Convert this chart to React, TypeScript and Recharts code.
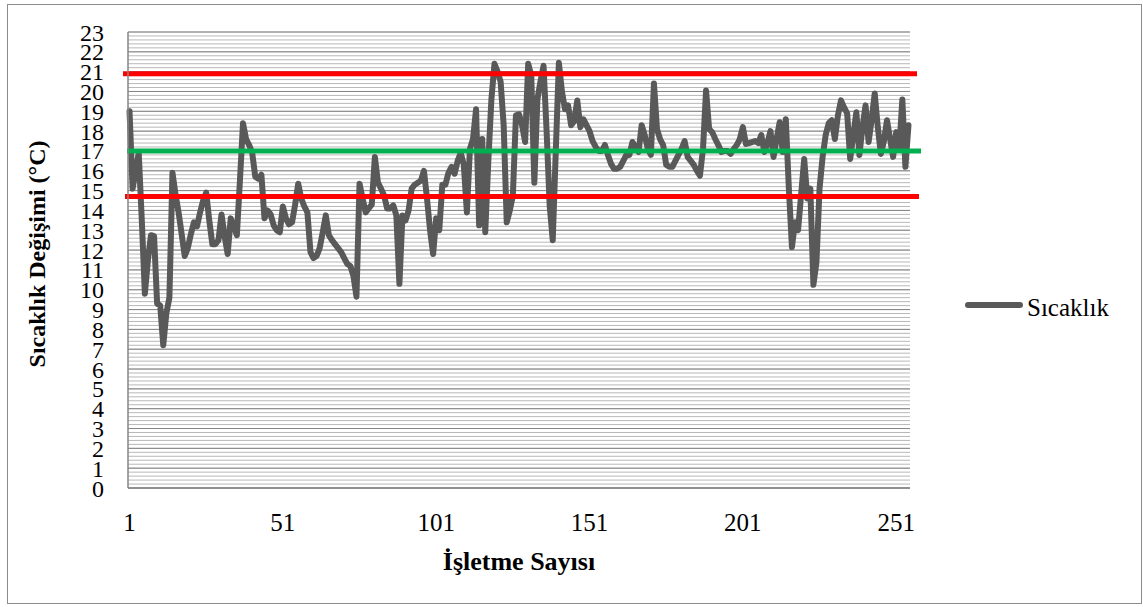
import { LineChart, Line, XAxis, YAxis, CartesianGrid, ReferenceLine, Legend } from "recharts";

// Sıcaklık readings, one per işletme (1..255)
const TEMPS: number[] = [
  19.0, 15.1, 16.0, 16.9, 13.5, 9.8, 11.5, 12.75, 12.7, 9.3,
  9.2, 7.2, 8.8, 9.6, 15.9, 14.8, 13.9, 12.8, 11.7, 12.1,
  12.8, 13.4, 13.2, 13.9, 14.5, 14.9, 13.5, 12.3, 12.3, 12.5,
  13.8, 12.7, 11.8, 13.6, 13.2, 12.75, 15.5, 18.4, 17.6, 17.3,
  16.9, 15.7, 15.6, 15.8, 13.6, 14.0, 13.8, 13.25, 13.0, 12.9,
  14.2, 13.6, 13.3, 13.4, 14.3, 15.35, 14.6, 14.2, 13.9, 11.9,
  11.6, 11.7, 12.1, 12.9, 13.75, 12.75, 12.5, 12.3, 12.1, 11.9,
  11.6, 11.3, 11.2, 10.7, 9.65, 15.35, 14.6, 13.9, 14.1, 14.3,
  16.7, 15.4, 15.1, 14.75, 14.1, 14.1, 14.25, 13.75, 10.3, 13.75,
  13.5, 14.0, 15.1, 15.3, 15.4, 15.5, 16.0, 14.6, 13.0, 11.8,
  13.6, 13.0, 15.3, 15.3, 15.9, 16.2, 15.85, 16.5, 16.9, 16.3,
  13.9, 17.1, 17.6, 19.1, 13.25, 17.6, 12.9, 16.5, 19.6, 21.4,
  21.0, 20.5, 18.3, 13.4, 14.0, 14.75, 18.8, 18.85, 18.3, 17.45,
  21.4, 20.8, 15.4, 19.6, 20.5, 21.3, 18.0, 14.25, 12.5, 17.0,
  21.45, 20.0, 19.1, 19.3, 18.3, 18.5, 19.55, 18.2, 18.6, 18.3,
  18.0, 17.5, 17.2, 17.0, 17.0, 17.3, 16.8, 16.35, 16.1, 16.1,
  16.2, 16.5, 16.8, 16.8, 17.45, 17.2, 16.95, 18.3, 17.8, 17.1,
  16.8, 20.4, 18.1, 17.6, 17.3, 16.3, 16.2, 16.2, 16.5, 16.8,
  17.1, 17.5, 16.7, 16.5, 16.3, 16.0, 15.75, 17.1, 20.05, 18.1,
  17.95, 17.6, 17.3, 16.95, 17.0, 17.0, 16.85, 17.1, 17.3, 17.6,
  18.2, 17.35, 17.4, 17.45, 17.5, 17.4, 17.8, 16.95, 17.4, 18.0,
  16.7, 17.6, 18.45, 16.95, 18.6, 15.1, 12.15, 13.4, 13.0, 14.8,
  16.6, 14.6, 15.1, 10.25, 11.4, 15.1, 16.7, 17.8, 18.4, 18.55,
  17.6, 18.8, 19.55, 19.2, 18.9, 16.6, 17.8, 18.95, 16.8, 18.2,
  19.3, 17.45, 18.6, 19.9, 18.2, 16.85, 17.5, 18.55, 17.6, 16.7,
  17.95, 17.1, 19.6, 16.2, 18.3,
];

const CATEGORIES = TEMPS.map((_, i) => i + 1);
const Y_TICKS = [0, 1, 2, 3, 4, 5, 6, 7, 8, 9, 10, 11, 12, 13, 14, 15, 16, 17, 18, 19, 20, 21, 22, 23];
const MINOR_GRID = Array.from({ length: 23 * 5 + 1 }, (_, i) => i / 5);

// limit lines: upper, mean, lower
const LIMITS = [20.9, 17.0, 14.7];
const LIMIT_STYLE = [
  { color: "#ff0000", width: 5, left: 5, right: 7 },
  { color: "#00b050", width: 5, left: 1, right: 11 },
  { color: "#ff0000", width: 5, left: 3, right: 9 },
];

const FONT = "Liberation Serif, Times New Roman, serif";
const LINE_COLOR = "#595959";

const data = CATEGORIES.map((n, i) => ({ n, temp: TEMPS[i] }));

function LegendBox() {
  return (
    <svg width={160} height={30}>
      <line x1={4} y1={14} x2={56} y2={14} stroke={LINE_COLOR} strokeWidth={6} strokeLinecap="round" />
      <text x={63} y={25} fontFamily={FONT} fontSize={25} fill="#000">
        Sıcaklık
      </text>
    </svg>
  );
}

export default function App() {
  return (
    <div style={{ position: "absolute", left: 0, top: 0, width: 1143, height: 607, background: "#fff" }}>
      <div
        style={{
          position: "absolute",
          left: 7,
          top: 4,
          width: 1133,
          height: 598,
          border: "1px solid #8c8c8c",
        }}
      />
      <div style={{ position: "absolute", left: 0, top: 0 }}>
        <LineChart width={1143} height={607} data={data} margin={{ top: 32, right: 233, bottom: 0, left: 0 }}>
          <CartesianGrid vertical={false} horizontalValues={MINOR_GRID} stroke="#b8b8b8" strokeWidth={1} />
          <CartesianGrid vertical={false} horizontalValues={Y_TICKS} stroke="#868686" strokeWidth={1} />
          <XAxis
            dataKey="n"
            type="category"
            scale="band"
            interval={49}
            height={119}
            tickLine={false}
            tickMargin={19}
            axisLine={{ stroke: "#868686", strokeWidth: 1.5 }}
            tick={{ fontFamily: FONT, fontSize: 25, fill: "#000" }}
            label={{
              content: (p: any) => (
                <text
                  x={p.viewBox.x + p.viewBox.width / 2}
                  y={570}
                  textAnchor="middle"
                  fontFamily={FONT}
                  fontSize={26}
                  fontWeight="bold"
                  fill="#000"
                >
                  İşletme Sayısı
                </text>
              ),
            }}
          />
          <YAxis
            type="number"
            domain={[0, 23]}
            ticks={Y_TICKS}
            interval={0}
            width={128}
            tickLine={false}
            tickMargin={18}
            axisLine={{ stroke: "#868686", strokeWidth: 1.5 }}
            tick={{ fontFamily: FONT, fontSize: 24, fill: "#000" }}
            label={{
              content: () => (
                <text
                  x={45}
                  y={254}
                  transform="rotate(-90, 45, 254)"
                  textAnchor="middle"
                  fontFamily={FONT}
                  fontSize={24}
                  fontWeight="bold"
                  fill="#000"
                >
                  Sıcaklık Değişimi (°C)
                </text>
              ),
            }}
          />
          <Line
            type="linear"
            dataKey="temp"
            name="Sıcaklık"
            stroke={LINE_COLOR}
            strokeWidth={6}
            strokeLinejoin="round"
            strokeLinecap="round"
            dot={false}
            activeDot={false}
            isAnimationActive={false}
          />
          {LIMITS.map((y, i) => (
            <ReferenceLine
              key={i}
              y={y}
              shape={(p: any) => (
                <line
                  x1={p.x1 - LIMIT_STYLE[i].left}
                  y1={p.y1}
                  x2={p.x2 + LIMIT_STYLE[i].right}
                  y2={p.y2}
                  stroke={LIMIT_STYLE[i].color}
                  strokeWidth={LIMIT_STYLE[i].width}
                />
              )}
            />
          ))}
          <Legend
            layout="horizontal"
            verticalAlign="middle"
            align="center"
            wrapperStyle={{ left: 964, top: 291, width: "auto" }}
            content={() => <LegendBox />}
          />
        </LineChart>
      </div>
    </div>
  );
}
